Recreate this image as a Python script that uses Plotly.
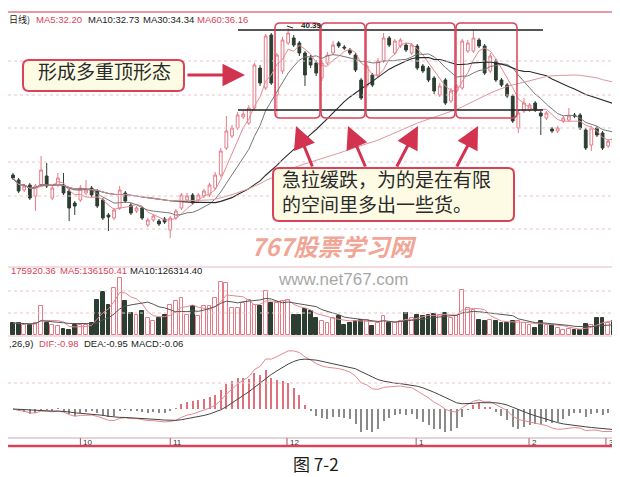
import pandas as pd
import plotly.graph_objects as go

W, H = 620, 477

# ---------------- data ----------------
open_ = [30.10, 29.75, 29.05, 29.40, 28.63, 29.40, 30.03, 28.49, 29.40, 29.40,
         28.98, 28.14, 28.35, 28.84, 29.19, 28.98, 28.35, 27.30, 27.09, 27.79,
         28.84, 28.00, 27.58, 27.79, 26.60, 26.95, 26.88, 27.02, 26.25, 27.09,
         27.79, 28.35, 28.70, 28.35, 28.63, 28.70, 29.19, 30.10, 31.99, 32.83,
         33.39, 34.16, 33.74, 34.79, 37.59, 36.19, 39.90, 35.70, 37.38, 39.34,
         39.69, 39.34, 38.64, 38.29, 37.94, 36.89, 37.94, 38.64, 39.34, 39.06,
         38.85, 38.50, 36.75, 36.33, 37.10, 37.10, 38.08, 39.69, 38.64, 39.13,
         39.20, 38.64, 39.13, 37.73, 37.59, 36.89, 35.70, 36.75, 35.28, 35.98,
         36.19, 38.78, 38.78, 39.55, 39.13, 37.38, 38.08, 36.75, 36.40, 35.63,
         33.39, 34.58, 34.65, 35.14, 34.44, 34.09, 33.32, 33.18, 33.88, 33.95,
         34.30, 34.30, 33.25, 32.20, 33.39, 33.04, 32.13, 32.83, 32.48, 32.20]
high_ = [30.24, 29.89, 29.47, 29.54, 29.47, 31.43, 30.94, 29.33, 30.24, 30.24,
         29.12, 28.28, 29.40, 29.75, 29.33, 29.12, 28.49, 27.44, 27.79, 29.33,
         28.98, 28.14, 27.93, 27.93, 27.09, 27.37, 27.02, 27.16, 27.23, 27.72,
         28.84, 28.84, 28.84, 28.84, 29.12, 29.54, 30.31, 31.99, 34.23, 33.60,
         34.51, 34.58, 35.00, 37.94, 37.80, 39.97, 40.04, 38.64, 39.76, 40.39,
         39.90, 39.48, 38.78, 38.50, 38.15, 38.15, 38.71, 39.48, 39.48, 39.20,
         38.99, 38.64, 36.89, 37.94, 37.24, 38.29, 40.04, 39.83, 39.62, 39.69,
         39.34, 39.34, 39.27, 37.87, 37.73, 37.03, 36.54, 36.89, 36.19, 36.47,
         39.62, 39.55, 40.25, 39.69, 39.27, 38.64, 38.22, 36.89, 36.54, 35.77,
         34.65, 35.49, 35.14, 35.28, 34.58, 34.58, 33.46, 33.53, 34.23, 34.79,
         34.44, 34.44, 33.39, 33.53, 33.53, 33.18, 32.62, 32.97, 32.62, 32.34]
low_ = [29.75, 28.84, 28.91, 28.35, 27.58, 29.26, 29.19, 28.35, 29.26, 28.70,
        26.88, 27.30, 28.21, 28.70, 28.56, 27.79, 26.95, 26.18, 26.95, 27.65,
        28.14, 27.30, 27.44, 26.95, 26.46, 26.81, 26.53, 26.67, 25.69, 26.95,
        27.65, 28.21, 28.00, 28.21, 28.49, 28.56, 29.05, 29.96, 31.85, 32.69,
        33.25, 34.02, 33.60, 34.65, 36.33, 36.05, 36.40, 34.23, 37.17, 39.20,
        39.06, 38.43, 36.33, 37.59, 37.03, 36.68, 37.80, 38.50, 38.99, 38.85,
        38.50, 37.31, 35.35, 36.19, 36.26, 36.96, 37.94, 39.06, 38.50, 38.99,
        38.71, 38.50, 37.45, 37.24, 36.61, 35.77, 35.56, 35.00, 35.14, 35.84,
        36.05, 38.64, 38.64, 38.99, 37.10, 37.24, 36.61, 36.26, 35.49, 33.74,
        33.04, 34.44, 34.51, 34.51, 32.90, 33.95, 33.04, 33.04, 33.74, 33.81,
        34.09, 33.25, 31.85, 31.78, 32.76, 31.85, 31.99, 32.20, 31.99, 30.94]
close_ = [29.89, 28.98, 29.33, 28.49, 29.33, 30.45, 29.33, 29.19, 29.89, 28.84,
          27.79, 27.93, 29.19, 29.05, 28.70, 27.93, 27.09, 27.16, 27.65, 29.05,
          28.28, 27.44, 27.79, 27.09, 26.95, 27.23, 26.67, 26.81, 27.09, 27.58,
          28.70, 28.63, 28.14, 28.70, 28.98, 29.40, 30.10, 31.78, 33.18, 33.39,
          34.30, 34.37, 34.79, 37.80, 36.54, 39.83, 36.54, 38.50, 39.55, 40.04,
          39.20, 38.64, 37.10, 37.80, 37.24, 37.94, 38.50, 39.20, 39.13, 38.99,
          38.64, 37.45, 35.49, 37.73, 36.40, 38.08, 39.69, 39.20, 39.48, 39.55,
          38.85, 39.20, 37.59, 37.38, 36.75, 35.98, 36.33, 35.14, 35.98, 36.33,
          39.48, 39.34, 39.69, 39.13, 37.24, 38.43, 36.75, 36.40, 35.63, 33.88,
          34.44, 35.14, 35.00, 34.65, 34.23, 34.44, 33.18, 33.39, 34.09, 34.23,
          34.23, 33.39, 31.99, 33.39, 32.90, 31.99, 32.48, 32.34, 32.13, 31.08]
volume = [124000, 124000, 107000, 107000, 124000, 297000, 124000, 107000, 90000, 62000,
          55000, 107000, 107000, 107000, 124000, 365000, 442000, 314000, 486000, 590000,
          349000, 228000, 210000, 245000, 176000, 142000, 176000, 210000, 314000, 349000,
          383000, 210000, 297000, 194000, 303000, 297000, 383000, 545000, 538000, 279000,
          279000, 331000, 365000, 314000, 297000, 452000, 331000, 331000, 349000, 365000,
          210000, 210000, 269000, 245000, 176000, 142000, 124000, 176000, 194000, 107000,
          124000, 142000, 158000, 158000, 96000, 124000, 194000, 124000, 124000, 142000,
          228000, 176000, 210000, 194000, 210000, 217000, 210000, 228000, 176000, 194000,
          469000, 279000, 262000, 158000, 142000, 158000, 142000, 124000, 124000, 142000,
          142000, 124000, 107000, 72000, 142000, 107000, 107000, 72000, 55000, 62000,
          55000, 55000, 117000, 107000, 176000, 176000, 124000, 142000, 210000, 175920]
month_ticks = [12.0, 28.0, 48.8, 71.8, 91.9, 105.6]
month_labels = ["10", "11", "12", "1", "2", "3"]

price_header = [("日线)", "#222222"), ("MA5:32.20", "#d9435a"), ("MA10:32.73", "#222222"),
                ("MA30:34.34", "#222222"), ("MA60:36.16", "#d9435a")]
vol_header = [("175920.36", "#d9435a"), ("MA5:136150.41", "#d9435a"), ("MA10:126314.40", "#222222")]
macd_header = [(",26,9)", "#222222"), ("DIF:-0.98", "#d9435a"), ("DEA:-0.95", "#222222"),
               ("MACD:-0.06", "#222222")]
note1 = "形成多重顶形态"
note2 = ["急拉缓跌，为的是在有限", "的空间里多出一些货。"]
caption = "图 7-2"

# ---------------- derived indicators ----------------
n = len(close_)
idx = list(range(n))
cs = pd.Series(close_)
ma = {k: cs.rolling(k, min_periods=1).mean() for k in (5, 10, 30, 60)}
vs = pd.Series(volume, dtype=float)
vma5 = vs.rolling(5, min_periods=1).mean()
vma10 = vs.rolling(10, min_periods=1).mean()
ema12 = cs.ewm(span=12, adjust=False).mean()
ema26 = cs.ewm(span=26, adjust=False).mean()
dif = ema12 - ema26
dea = dif.ewm(span=9, adjust=False).mean()
macd = 2 * (dif - dea)


def px(x):
    return x / W


def py(y):
    return 1 - y / H


RED = "#d9435a"
PINK = "#e57a86"
DARK = "#2c3d31"

up = [c >= o for o, c in zip(open_, close_)]

fig = go.Figure()
fig.add_trace(go.Candlestick(
    x=idx, open=open_, high=high_, low=low_, close=close_,
    increasing=dict(line=dict(color=PINK, width=1), fillcolor="white"),
    decreasing=dict(line=dict(color=DARK, width=1), fillcolor=DARK),
    whiskerwidth=0, showlegend=False, hoverinfo="skip"))
ma_style = {5: ("#e58892", 1), 10: ("#777777", 1), 30: ("#2a2a2a", 1.1), 60: ("#dc98a0", 1)}
for k, (col, w) in ma_style.items():
    fig.add_trace(go.Scatter(x=idx, y=ma[k], mode="lines", line=dict(color=col, width=w),
                             showlegend=False, hoverinfo="skip"))

fig.add_trace(go.Bar(
    x=idx, y=volume, yaxis="y2", width=0.68,
    marker=dict(color=["white" if u else DARK for u in up],
                line=dict(color=[PINK if u else DARK for u in up], width=1)),
    showlegend=False, hoverinfo="skip"))
fig.add_trace(go.Scatter(x=idx, y=vma5, yaxis="y2", mode="lines", line=dict(color="#e58892", width=1),
                         showlegend=False, hoverinfo="skip"))
fig.add_trace(go.Scatter(x=idx, y=vma10, yaxis="y2", mode="lines", line=dict(color="#555555", width=1),
                         showlegend=False, hoverinfo="skip"))

fig.add_trace(go.Bar(
    x=idx, y=macd, yaxis="y3", width=0.18,
    marker=dict(color=["#e0707c" if v >= 0 else "#8a8a8a" for v in macd], line=dict(width=0)),
    showlegend=False, hoverinfo="skip"))
fig.add_trace(go.Scatter(x=idx, y=dif, yaxis="y3", mode="lines", line=dict(color="#e58892", width=1),
                         showlegend=False, hoverinfo="skip"))
fig.add_trace(go.Scatter(x=idx, y=dea, yaxis="y3", mode="lines", line=dict(color="#444444", width=1),
                         showlegend=False, hoverinfo="skip"))

hi = max(dif.max(), dea.max(), macd.max()) * 1.05
lo = max(hi * 28 / 61, -min(dif.min(), dea.min(), macd.min()) * 1.05)

shapes = []


def hline(y, x0=0, x1=W, color="#e8c4ca", width=1, dash="dot"):
    shapes.append(dict(type="line", xref="paper", yref="paper", x0=px(x0), x1=px(x1),
                       y0=py(y), y1=py(y), line=dict(color=color, width=width, dash=dash)))


def rrect(x0, y0, x1, y1, r, color, width, fill=None):
    pts = f"M {px(x0 + r)},{py(y0)} L {px(x1 - r)},{py(y0)} Q {px(x1)},{py(y0)} {px(x1)},{py(y0 + r)} " \
          f"L {px(x1)},{py(y1 - r)} Q {px(x1)},{py(y1)} {px(x1 - r)},{py(y1)} " \
          f"L {px(x0 + r)},{py(y1)} Q {px(x0)},{py(y1)} {px(x0)},{py(y1 - r)} " \
          f"L {px(x0)},{py(y0 + r)} Q {px(x0)},{py(y0)} {px(x0 + r)},{py(y0)} Z"
    d = dict(type="path", xref="paper", yref="paper", path=pts, line=dict(color=color, width=width))
    if fill:
        d["fillcolor"] = fill
    shapes.append(d)


for y in (53, 87, 120, 154, 188, 221, 283, 305, 375):
    hline(y)
hline(4, color="#e07885", width=1.5, dash="solid")
hline(259, color="#ebb8bf", width=1, dash="solid")
hline(328, color="#ebb8bf", width=1, dash="solid")
hline(430, color="#c9a9b0", width=1, dash="solid")
hline(438, color=RED, width=2.5, dash="solid")
hline(22, 230, 535, color="#1e1e1e", width=1.6, dash="solid")
hline(102, 230, 535, color="#1e1e1e", width=1.6, dash="solid")
for x0, x1 in ((267, 312), (313, 357), (358, 447), (448, 509)):
    rrect(x0, 15, x1, 110, 5, RED, 1.5)
rrect(15, 52, 176, 83, 6, RED, 2, "#fdfbe4")
rrect(265, 160, 506, 213, 6, RED, 2, "#fdfbe4")
shapes.append(dict(type="line", xref="paper", yref="paper", x0=px(279), x1=px(285), y0=py(18), y1=py(20),
                   line=dict(color="#222", width=1)))
for t in month_ticks:
    shapes.append(dict(type="line", xref="x", yref="paper", x0=t, x1=t, y0=py(430), y1=py(438),
                       line=dict(color="#b05060", width=1)))

ann = []


def txt(x, y, s, color="#222222", size=10, anchor="left", family="Liberation Sans, Arial", **kw):
    ann.append(dict(x=px(x), y=py(y), xref="paper", yref="paper", text=s, showarrow=False,
                    xanchor=anchor, yanchor="middle", font=dict(family=family, size=size, color=color), **kw))


def row(items, xs, y):
    for (s, c), x in zip(items, xs):
        fam = "Noto Sans CJK SC" if any(ord(ch) > 127 for ch in s) else "Liberation Sans, Arial"
        sz = 9 if fam != "Liberation Sans, Arial" else 9.5
        txt(x, y, s, c, sz, family=fam)


row(price_header, [-1, 26, 78, 133, 187], 12)
row(vol_header, [1, 50, 120], 262)
row(macd_header, [-1, 29, 74, 121], 335)

CJK = "Noto Sans CJK SC"
txt(96, 62, note1, "#2a2a2a", 19, anchor="center", family=CJK)
txt(272, 171, note2[0], "#2a2a2a", 19, family=CJK)
txt(272, 195, note2[1], "#2a2a2a", 19, family=CJK)
txt(291, 18, "<b>40.39</b>", "#222222", 8)
txt(325, 237, "<b><i>767股票学习网</i></b>", "rgba(238,140,120,0.8)", 24, anchor="center", family=CJK)
txt(335, 271, "www.net767.com", "#a8a8a8", 17, anchor="center")
txt(308, 455, caption, "#1a1a1a", 17, anchor="center", family=CJK)
for t, lab in zip(month_ticks, month_labels):
    ann.append(dict(x=t, y=py(434), xref="x", yref="paper", text=lab, showarrow=False,
                    xanchor="left", yanchor="middle", xshift=1,
                    font=dict(family="Liberation Sans, Arial", size=8, color="#333")))


def arrow(tx, ty, sx, sy):
    ann.append(dict(x=px(tx), y=py(ty), xref="paper", yref="paper", text="", showarrow=True,
                    ax=sx - tx, ay=sy - ty, arrowhead=2, arrowsize=1.5, arrowwidth=3,
                    arrowcolor="#d2344f"))


arrow(237, 67, 178, 67)
arrow(288, 118, 305, 160)
arrow(340, 118, 358, 160)
arrow(410, 118, 388, 160)
arrow(470, 118, 448, 160)

fig.update_layout(
    width=W, height=H, autosize=False,
    margin=dict(l=0, r=0, t=0, b=0),
    paper_bgcolor="white", plot_bgcolor="white",
    bargap=0,
    xaxis=dict(domain=[0, 1], range=[-0.89, 109.53], visible=False,
               rangeslider=dict(visible=False), anchor="y"),
    yaxis=dict(domain=[py(245), py(14)], range=[24.64, 40.81], visible=False),
    yaxis2=dict(domain=[py(327), py(268)], range=[0, 610650], visible=False, anchor="x"),
    yaxis3=dict(domain=[py(429), py(340)], range=[-lo, hi], visible=False, anchor="x"),
    shapes=shapes, annotations=ann,
)
fig.write_html("out.html")
